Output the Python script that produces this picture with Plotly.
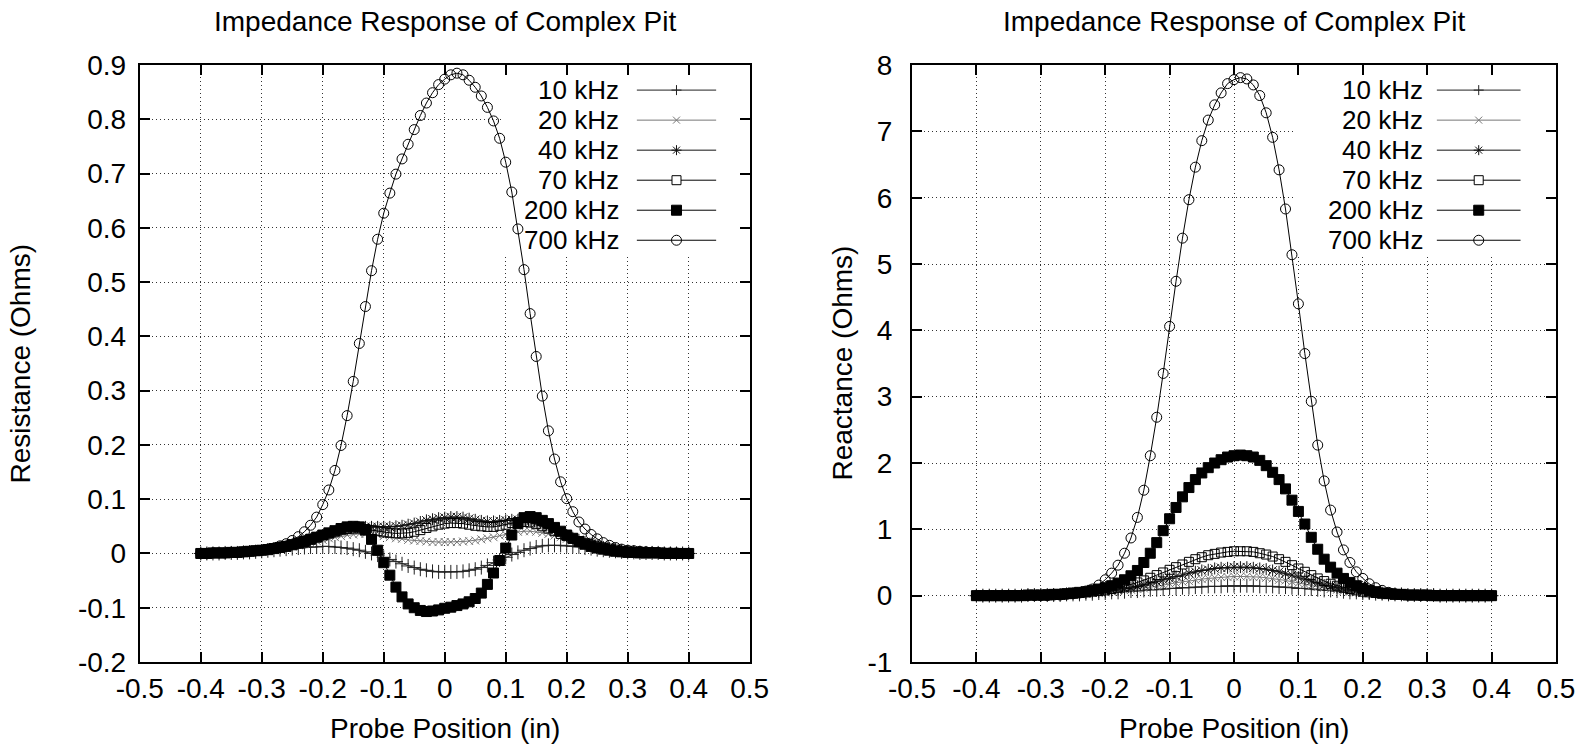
import plotly.graph_objects as go

# ---------------- data ----------------
x_pos = [round(-0.40 + 0.01 * i, 2) for i in range(81)]

series_names = ["10 kHz", "20 kHz", "40 kHz", "70 kHz", "200 kHz", "700 kHz"]

res_10 = [0.000, 0.000, 0.000, 0.000, 0.001, 0.001, 0.001, 0.002, 0.002, 0.003,
          0.004, 0.005, 0.006, 0.007, 0.008, 0.009, 0.010, 0.011, 0.012, 0.012,
          0.013, 0.013, 0.012, 0.011, 0.010, 0.008, 0.006, 0.003, 0.000, -0.003,
          -0.007, -0.011, -0.015, -0.019, -0.023, -0.026, -0.029, -0.031, -0.033, -0.034,
          -0.034, -0.034, -0.034, -0.033, -0.031, -0.029, -0.026, -0.022, -0.017, -0.012,
          -0.007, -0.002, 0.002, 0.006, 0.009, 0.012, 0.014, 0.015, 0.015, 0.015,
          0.014, 0.013, 0.012, 0.010, 0.009, 0.007, 0.006, 0.005, 0.004, 0.003,
          0.002, 0.002, 0.001, 0.001, 0.001, 0.001, 0.000, 0.000, 0.000, 0.000, 0.000]
res_20 = [0.000, 0.000, 0.000, 0.001, 0.001, 0.001, 0.002, 0.002, 0.003, 0.004,
          0.005, 0.006, 0.008, 0.009, 0.011, 0.013, 0.015, 0.018, 0.020, 0.023,
          0.025, 0.028, 0.030, 0.032, 0.034, 0.035, 0.036, 0.036, 0.035, 0.034,
          0.032, 0.030, 0.028, 0.027, 0.025, 0.024, 0.023, 0.022, 0.021, 0.021,
          0.021, 0.021, 0.021, 0.022, 0.023, 0.024, 0.026, 0.028, 0.030, 0.033,
          0.035, 0.038, 0.040, 0.041, 0.041, 0.040, 0.038, 0.036, 0.033, 0.030,
          0.027, 0.024, 0.021, 0.018, 0.015, 0.013, 0.011, 0.009, 0.007, 0.006,
          0.005, 0.004, 0.003, 0.002, 0.002, 0.001, 0.001, 0.001, 0.000, 0.000, 0.000]
res_40 = [0.000, 0.000, 0.001, 0.001, 0.001, 0.002, 0.002, 0.003, 0.004, 0.005,
          0.006, 0.008, 0.010, 0.012, 0.014, 0.017, 0.020, 0.023, 0.026, 0.030,
          0.033, 0.036, 0.040, 0.043, 0.045, 0.047, 0.048, 0.049, 0.049, 0.049,
          0.049, 0.049, 0.050, 0.051, 0.053, 0.055, 0.058, 0.061, 0.063, 0.065,
          0.066, 0.067, 0.067, 0.066, 0.064, 0.062, 0.060, 0.059, 0.059, 0.060,
          0.061, 0.062, 0.062, 0.061, 0.059, 0.056, 0.052, 0.048, 0.043, 0.038,
          0.034, 0.029, 0.025, 0.021, 0.018, 0.015, 0.012, 0.010, 0.008, 0.006,
          0.005, 0.004, 0.003, 0.002, 0.002, 0.001, 0.001, 0.001, 0.000, 0.000, 0.000]
res_70 = [0.000, 0.000, 0.001, 0.001, 0.001, 0.002, 0.002, 0.003, 0.004, 0.005,
          0.006, 0.008, 0.010, 0.012, 0.014, 0.017, 0.020, 0.023, 0.027, 0.030,
          0.034, 0.037, 0.040, 0.043, 0.045, 0.046, 0.046, 0.045, 0.043, 0.041,
          0.039, 0.038, 0.037, 0.037, 0.038, 0.040, 0.043, 0.047, 0.050, 0.053,
          0.055, 0.056, 0.056, 0.055, 0.053, 0.051, 0.050, 0.049, 0.049, 0.051,
          0.053, 0.056, 0.058, 0.058, 0.057, 0.054, 0.050, 0.046, 0.041, 0.036,
          0.032, 0.027, 0.023, 0.019, 0.016, 0.013, 0.011, 0.009, 0.007, 0.005,
          0.004, 0.003, 0.003, 0.002, 0.002, 0.001, 0.001, 0.001, 0.000, 0.000, 0.000]
res_200 = [0.000, 0.000, 0.001, 0.001, 0.001, 0.002, 0.002, 0.003, 0.004, 0.005,
           0.006, 0.007, 0.009, 0.011, 0.013, 0.016, 0.019, 0.022, 0.026, 0.030,
           0.034, 0.038, 0.042, 0.046, 0.049, 0.050, 0.049, 0.043, 0.026, 0.006,
           -0.017, -0.040, -0.062, -0.080, -0.093, -0.100, -0.105, -0.107, -0.106, -0.104,
           -0.101, -0.099, -0.096, -0.093, -0.089, -0.083, -0.073, -0.057, -0.036, -0.013,
           0.010, 0.034, 0.055, 0.066, 0.068, 0.066, 0.061, 0.055, 0.048, 0.041,
           0.034, 0.028, 0.022, 0.017, 0.013, 0.010, 0.008, 0.006, 0.004, 0.003,
           0.002, 0.002, 0.001, 0.001, 0.001, 0.001, 0.000, 0.000, 0.000, 0.000, 0.000]
res_700 = [0.000, 0.000, 0.001, 0.001, 0.001, 0.002, 0.002, 0.003, 0.004, 0.005,
           0.006, 0.008, 0.010, 0.014, 0.018, 0.024, 0.031, 0.040, 0.052, 0.067,
           0.090, 0.117, 0.153, 0.199, 0.254, 0.317, 0.387, 0.455, 0.521, 0.579,
           0.627, 0.664, 0.699, 0.727, 0.754, 0.781, 0.807, 0.830, 0.849, 0.864,
           0.874, 0.882, 0.885, 0.882, 0.872, 0.859, 0.843, 0.822, 0.797, 0.765,
           0.721, 0.666, 0.598, 0.523, 0.442, 0.363, 0.290, 0.226, 0.174, 0.132,
           0.101, 0.077, 0.058, 0.045, 0.035, 0.027, 0.020, 0.015, 0.011, 0.008,
           0.006, 0.005, 0.004, 0.003, 0.002, 0.002, 0.001, 0.001, 0.001, 0.000, 0.000]

rea_10 = [0.00, 0.00, 0.00, 0.00, 0.00, 0.00, 0.00, 0.00, 0.01, 0.01,
          0.01, 0.01, 0.01, 0.01, 0.02, 0.02, 0.02, 0.03, 0.03, 0.04,
          0.04, 0.05, 0.05, 0.06, 0.07, 0.07, 0.08, 0.09, 0.09, 0.10,
          0.11, 0.11, 0.12, 0.12, 0.13, 0.13, 0.14, 0.14, 0.14, 0.15,
          0.15, 0.15, 0.15, 0.15, 0.14, 0.14, 0.14, 0.13, 0.13, 0.12,
          0.11, 0.11, 0.10, 0.09, 0.08, 0.08, 0.07, 0.06, 0.05, 0.05,
          0.04, 0.04, 0.03, 0.03, 0.02, 0.02, 0.02, 0.01, 0.01, 0.01,
          0.01, 0.01, 0.00, 0.00, 0.00, 0.00, 0.00, 0.00, 0.00, 0.00, 0.00]
rea_20 = [0.00, 0.00, 0.00, 0.00, 0.00, 0.00, 0.00, 0.01, 0.01, 0.01,
          0.01, 0.01, 0.01, 0.02, 0.02, 0.02, 0.03, 0.03, 0.04, 0.04,
          0.05, 0.06, 0.07, 0.08, 0.09, 0.10, 0.11, 0.13, 0.14, 0.16,
          0.18, 0.19, 0.21, 0.22, 0.24, 0.25, 0.26, 0.27, 0.28, 0.28,
          0.29, 0.29, 0.29, 0.28, 0.28, 0.27, 0.26, 0.24, 0.23, 0.21,
          0.19, 0.17, 0.15, 0.13, 0.12, 0.10, 0.09, 0.07, 0.06, 0.05,
          0.04, 0.04, 0.03, 0.02, 0.02, 0.02, 0.01, 0.01, 0.01, 0.01,
          0.01, 0.00, 0.00, 0.00, 0.00, 0.00, 0.00, 0.00, 0.00, 0.00, 0.00]
rea_40 = [0.00, 0.00, 0.00, 0.00, 0.00, 0.00, 0.00, 0.01, 0.01, 0.01,
          0.01, 0.01, 0.02, 0.02, 0.02, 0.03, 0.03, 0.04, 0.05, 0.06,
          0.07, 0.08, 0.09, 0.11, 0.12, 0.14, 0.16, 0.19, 0.21, 0.24,
          0.26, 0.29, 0.31, 0.34, 0.36, 0.38, 0.39, 0.41, 0.42, 0.42,
          0.43, 0.43, 0.43, 0.42, 0.41, 0.40, 0.38, 0.36, 0.33, 0.31,
          0.28, 0.25, 0.22, 0.19, 0.16, 0.14, 0.12, 0.10, 0.08, 0.07,
          0.05, 0.04, 0.04, 0.03, 0.02, 0.02, 0.02, 0.01, 0.01, 0.01,
          0.01, 0.01, 0.00, 0.00, 0.00, 0.00, 0.00, 0.00, 0.00, 0.00, 0.00]
rea_70 = [0.00, 0.00, 0.00, 0.00, 0.00, 0.01, 0.01, 0.01, 0.01, 0.01,
          0.01, 0.02, 0.02, 0.02, 0.03, 0.03, 0.04, 0.05, 0.06, 0.07,
          0.08, 0.10, 0.12, 0.14, 0.17, 0.20, 0.23, 0.27, 0.31, 0.35,
          0.39, 0.43, 0.47, 0.51, 0.55, 0.58, 0.61, 0.63, 0.65, 0.66,
          0.67, 0.67, 0.67, 0.66, 0.64, 0.62, 0.59, 0.55, 0.51, 0.46,
          0.41, 0.36, 0.31, 0.26, 0.22, 0.18, 0.15, 0.12, 0.10, 0.08,
          0.06, 0.05, 0.04, 0.03, 0.03, 0.02, 0.02, 0.01, 0.01, 0.01,
          0.01, 0.01, 0.00, 0.00, 0.00, 0.00, 0.00, 0.00, 0.00, 0.00, 0.00]
rea_200 = [0.00, 0.00, 0.00, 0.00, 0.00, 0.00, 0.00, 0.00, 0.01, 0.01,
           0.01, 0.01, 0.02, 0.02, 0.03, 0.04, 0.05, 0.06, 0.08, 0.10,
           0.12, 0.15, 0.19, 0.24, 0.30, 0.38, 0.50, 0.64, 0.80, 0.98,
           1.16, 1.33, 1.49, 1.63, 1.75, 1.85, 1.93, 2.00, 2.05, 2.09,
           2.11, 2.12, 2.11, 2.09, 2.04, 1.96, 1.86, 1.75, 1.61, 1.44,
           1.27, 1.08, 0.88, 0.70, 0.55, 0.43, 0.34, 0.26, 0.20, 0.15,
           0.11, 0.08, 0.06, 0.04, 0.03, 0.02, 0.02, 0.01, 0.01, 0.01,
           0.01, 0.00, 0.00, 0.00, 0.00, 0.00, 0.00, 0.00, 0.00, 0.00, 0.00]
rea_700 = [0.00, 0.00, 0.00, 0.00, 0.00, 0.00, 0.00, 0.00, 0.00, 0.00,
           0.00, 0.00, 0.01, 0.01, 0.02, 0.03, 0.04, 0.07, 0.10, 0.16,
           0.24, 0.34, 0.46, 0.64, 0.87, 1.18, 1.59, 2.11, 2.69, 3.35,
           4.06, 4.74, 5.39, 5.97, 6.46, 6.86, 7.17, 7.40, 7.58, 7.72,
           7.78, 7.81, 7.79, 7.70, 7.54, 7.28, 6.91, 6.42, 5.83, 5.14,
           4.40, 3.65, 2.93, 2.27, 1.73, 1.29, 0.96, 0.69, 0.50, 0.36,
           0.26, 0.18, 0.12, 0.08, 0.05, 0.03, 0.02, 0.01, 0.01, 0.00,
           0.00, 0.00, 0.00, 0.00, 0.00, 0.00, 0.00, 0.00, 0.00, 0.00, 0.00]

resistance = [res_10, res_20, res_40, res_70, res_200, res_700]
reactance = [rea_10, rea_20, rea_40, rea_70, rea_200, rea_700]
for s in resistance + reactance:
    assert len(s) == len(x_pos), len(s)

x_tickvals = [-0.5, -0.4, -0.3, -0.2, -0.1, 0.0, 0.1, 0.2, 0.3, 0.4, 0.5]
x_ticktext = ["-0.5", "-0.4", "-0.3", "-0.2", "-0.1", "0", "0.1", "0.2", "0.3", "0.4", "0.5"]
res_tickvals = [-0.2, -0.1, 0.0, 0.1, 0.2, 0.3, 0.4, 0.5, 0.6, 0.7, 0.8, 0.9]
res_ticktext = ["-0.2", "-0.1", "0", "0.1", "0.2", "0.3", "0.4", "0.5", "0.6", "0.7", "0.8", "0.9"]
rea_tickvals = [-1, 0, 1, 2, 3, 4, 5, 6, 7, 8]
rea_ticktext = ["-1", "0", "1", "2", "3", "4", "5", "6", "7", "8"]

title_text = "Impedance Response of Complex Pit"
xlabel = "Probe Position (in)"
ylabel_left = "Resistance (Ohms)"
ylabel_right = "Reactance (Ohms)"

# ---------------- styles ----------------
FONT = "Liberation Sans, Arial, Helvetica, sans-serif"
FS = 28
FS_KEY = 26
colors = ["#222222", "#777777", "#111111", "#000000", "#000000", "#000000"]
symbols = ["cross-thin-open", "x-thin-open", "asterisk-open", "square-open", "square", "circle-open"]
sizes = [10, 8, 10, 9, 10, 10]

fig = go.Figure()
for data, xa, ya in [(resistance, "x", "y"), (reactance, "x2", "y2")]:
    for name, vals, c, sym, sz in zip(series_names, data, colors, symbols, sizes):
        fig.add_trace(go.Scatter(
            x=x_pos, y=vals, name=name, mode="lines+markers",
            xaxis=xa, yaxis=ya, showlegend=False,
            line=dict(color=c, width=1),
            marker=dict(symbol=sym, size=sz, color=c, line=dict(color=c, width=1)),
        ))

axis_common = dict(
    showline=True, linecolor="black", linewidth=2, mirror="allticks",
    ticks="inside", ticklen=10, tickwidth=1.5, tickcolor="black",
    showgrid=True, gridcolor="#333333", gridwidth=1, griddash="1px,3px",
    zeroline=False, automargin=False,
    tickfont=dict(family=FONT, size=FS, color="black"),
)
YB, YT = 0.1185, 0.9134
X_RANGE = [-0.5, 0.5]
RES_RANGE = [-0.2, 0.9]
REA_RANGE = [-1, 8]
fig.update_layout(
    width=1590, height=751, autosize=False,
    margin=dict(l=0, r=0, t=0, b=0, pad=0, autoexpand=False),
    showlegend=False,
    paper_bgcolor="white", plot_bgcolor="white",
    font=dict(family=FONT, size=FS, color="black"),
    xaxis=dict(domain=[0.0879, 0.4715], anchor="y", range=X_RANGE, ticklabelstandoff=0,
               tickmode="array", tickvals=x_tickvals, ticktext=x_ticktext, **axis_common),
    yaxis=dict(domain=[YB, YT], anchor="x", range=RES_RANGE, ticklabelstandoff=6,
               tickmode="array", tickvals=res_tickvals, ticktext=res_ticktext, **axis_common),
    xaxis2=dict(domain=[0.5736, 0.9786], anchor="y2", range=X_RANGE, ticklabelstandoff=0,
                tickmode="array", tickvals=x_tickvals, ticktext=x_ticktext, **axis_common),
    yaxis2=dict(domain=[YB, YT], anchor="x2", range=REA_RANGE, ticklabelstandoff=12,
                tickmode="array", tickvals=rea_tickvals, ticktext=rea_ticktext, **axis_common),
)

ann = []
shapes = []
panels = [("x", "y", X_RANGE, RES_RANGE, 0.2797, 0.0126, ylabel_left, 0.789),
          ("x2", "y2", X_RANGE, REA_RANGE, 0.7761, 0.5296, ylabel_right, 0.797)]
for xref, yref, xr, yr_, xc, ytitle_x, ylab, key_x in panels:
    def fx(f, xr=xr):
        return xr[0] + f * (xr[1] - xr[0])

    def fy(g, yr_=yr_):
        return yr_[0] + g * (yr_[1] - yr_[0])

    ann.append(dict(text=title_text, x=xc, y=0.972, xref="paper", yref="paper",
                    showarrow=False, xanchor="center", yanchor="middle",
                    font=dict(family=FONT, size=FS)))
    ann.append(dict(text=xlabel, x=xc, y=0.030, xref="paper", yref="paper",
                    showarrow=False, xanchor="center", yanchor="middle",
                    font=dict(family=FONT, size=FS)))
    ann.append(dict(text=ylab, x=ytitle_x, y=0.516, xref="paper", yref="paper",
                    showarrow=False, xanchor="center", yanchor="middle", textangle=-90,
                    font=dict(family=FONT, size=FS)))
    # legend background (hides grid behind key, as gnuplot does)
    shapes.append(dict(type="rect", xref=xref, yref=yref, x0=fx(0.595), x1=fx(0.996),
                       y0=fy(0.68), y1=fy(0.996),
                       fillcolor="white", line=dict(width=0), layer="between"))
    for i, name in enumerate(series_names):
        g = 0.958 - 0.0503 * i
        c = colors[i]
        ann.append(dict(text=name, x=fx(key_x), y=fy(g), xref=xref, yref=yref, showarrow=False,
                        xanchor="right", yanchor="middle", font=dict(family=FONT, size=FS_KEY)))
        shapes.append(dict(type="line", xref=xref, yref=yref, x0=fx(0.815), x1=fx(0.945),
                           y0=fy(g), y1=fy(g), line=dict(color=c, width=1)))
        mk = dict(xref=xref, yref=yref, xsizemode="pixel", ysizemode="pixel",
                  xanchor=fx(0.88), yanchor=fy(g))
        sym = symbols[i]
        if sym in ("cross-thin-open", "asterisk-open"):
            shapes.append(dict(type="line", x0=-5, x1=5, y0=0, y1=0, line=dict(color=c, width=1), **mk))
            shapes.append(dict(type="line", x0=0, x1=0, y0=-5, y1=5, line=dict(color=c, width=1), **mk))
        if sym in ("x-thin-open", "asterisk-open"):
            shapes.append(dict(type="line", x0=-3.5, x1=3.5, y0=-3.5, y1=3.5, line=dict(color=c, width=1), **mk))
            shapes.append(dict(type="line", x0=-3.5, x1=3.5, y0=3.5, y1=-3.5, line=dict(color=c, width=1), **mk))
        if sym == "square-open":
            shapes.append(dict(type="rect", x0=-4.5, x1=4.5, y0=-4.5, y1=4.5, fillcolor="white",
                               line=dict(color=c, width=1), **mk))
        if sym == "square":
            shapes.append(dict(type="rect", x0=-5, x1=5, y0=-5, y1=5, fillcolor=c,
                               line=dict(color=c, width=1), **mk))
        if sym == "circle-open":
            shapes.append(dict(type="circle", x0=-5, x1=5, y0=-5, y1=5,
                               line=dict(color=c, width=1), **mk))

fig.update_layout(annotations=ann, shapes=shapes)

fig.write_html("out.html", config={"displayModeBar": False},
               post_script="document.body.style.margin='0px';")
